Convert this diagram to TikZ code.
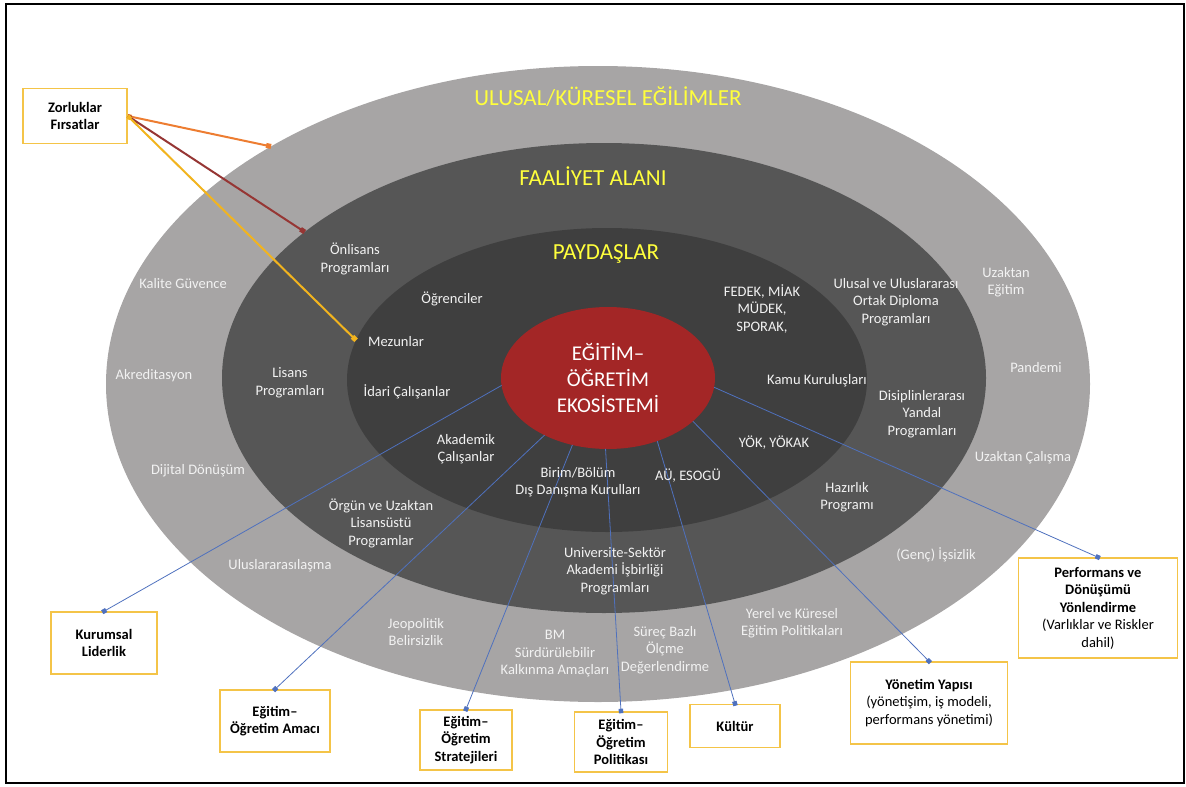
\documentclass[tikz,border=0pt]{standalone}
\usepackage{fontspec}
\setmainfont{Carlito}
\usetikzlibrary{arrows.meta, shapes.geometric, positioning}

\definecolor{trendgray}{RGB}{167,165,165}
\definecolor{alangray}{RGB}{86,86,86}
\definecolor{paydasgray}{RGB}{63,63,63}
\definecolor{ekored}{RGB}{163,38,38}
\definecolor{ringtext}{RGB}{242,242,242}
\definecolor{headyellow}{RGB}{255,255,60}
\definecolor{boxgold}{RGB}{244,196,72}
\definecolor{linkblue}{RGB}{79,113,190}
\definecolor{tieorange}{RGB}{237,125,49}
\definecolor{tiered}{RGB}{150,54,52}
\definecolor{tiegold}{RGB}{242,180,30}

\tikzset{
  ring/.style={ellipse, inner sep=0pt, outer sep=0pt},
  lbl/.style={text=ringtext, align=center, inner sep=1pt, font=\fontsize{14.5}{17.5}\selectfont},
  head/.style={text=headyellow, inner sep=1pt, font=\fontsize{23}{27}\selectfont},
  box/.style={draw=boxgold, line width=1.5pt, fill=white, align=center, inner sep=2pt,
    font=\bfseries\fontsize{14.5}{17.5}\selectfont},
  link/.style={draw=linkblue, line width=0.8pt, -{Square[length=4.5pt,width=4.5pt]}, shorten >=-2pt},
  tie/.style={line width=2pt, {Square[length=4pt,width=4pt]}-{Square[length=5pt,width=5pt]}},
}

\begin{document}
\begin{tikzpicture}[x=1pt, y=-1pt]
    \useasboundingbox (0,0) rectangle (1186,787);
    \draw[line width=2.5pt] (6,4) rectangle (1184,783);

    % rings
    \node[ring, fill=trendgray, minimum width=984pt, minimum height=636pt] (trend) at (598,384) {};
    \node[ring, fill=alangray, minimum width=764pt, minimum height=470pt] (alan) at (604,378) {};
    \node[ring, fill=paydasgray, minimum width=520pt, minimum height=304pt] (paydas) at (607,380) {};
    \node[ring, fill=ekored, minimum width=214pt, minimum height=142pt, text=white, align=center,
      font=\fontsize{21}{26}\selectfont] (eko) at (608,378) {EĞİTİM–\\ÖĞRETİM\\EKOSİSTEMİ};

    % boxes
    \node[box, minimum width=104pt, minimum height=55pt] (zor) at (75,116) {Zorluklar\\Fırsatlar};
    \node[box, minimum width=106pt, minimum height=62pt] (lider) at (104,643) {Kurumsal\\Liderlik};
    \node[box, minimum width=110pt, minimum height=62pt] (amac) at (275,721) {Eğitim–\\Öğretim Amacı};
    \node[box, minimum width=92pt, minimum height=60pt] (strat) at (466,740) {Eğitim–\\Öğretim\\Stratejileri};
    \node[box, minimum width=93pt, minimum height=60pt] (polit) at (621,742) {Eğitim–\\Öğretim\\Politikası};
    \node[box, minimum width=90pt, minimum height=43pt] (kultur) at (735,726) {Kültür};
    \node[box, minimum width=157pt, minimum height=82pt] (yonetim) at (929,703)
      {Yönetim Yapısı\\\mdseries(yönetişim, iş modeli,\\\mdseries performans yönetimi)};
    \node[box, minimum width=159pt, minimum height=100pt] (perf) at (1098,608)
      {Performans ve\\Dönüşümü\\Yönlendirme\\\mdseries(Varlıklar ve Riskler\\\mdseries dahil)};

    % connectors
    \draw[link] (eko.184) -- (lider.north);
    \draw[link] (eko.222) -- (amac.north);
    \draw[link] (eko.242) -- (strat.north);
    \draw[link] (eko.268) -- (polit.north);
    \draw[link] (eko.308) -- (kultur.north);
    \draw[link] (eko.333) -- (yonetim.north);
    \draw[link] (eko.355) -- (perf.north);
    \draw[tie, draw=tieorange] (zor.east) -- (trend.144);
    \draw[tie, draw=tiered] (zor.east) -- (alan.154);
    \draw[tie, draw=tiegold] (zor.east) -- (paydas.171.5);

    % headings
    \node[head] (h1) at (608,97) {ULUSAL/KÜRESEL EĞİLİMLER};
    \node[head] (h2) at (593,176) {FAALİYET ALANI};
    \node[head] (h3) at (606,254) {PAYDAŞLAR};

    % outer ring
    \node[lbl] (kalite) at (183,284) {Kalite Güvence};
    \node[lbl] (akred) at (154,376) {Akreditasyon};
    \node[lbl] (dijital) at (198,471) {Dijital Dönüşüm};
    \node[lbl] (ulusl) at (280,566) {Uluslararasılaşma};
    \node[lbl] (jeopol) at (416,632) {Jeopolitik\\Belirsizlik};
    \node[lbl] (bm) at (555,654) {BM\\Sürdürülebilir\\Kalkınma Amaçları};
    \node[lbl] (surec) at (665,650) {Süreç Bazlı\\Ölçme\\Değerlendirme};
    \node[lbl] (yerel) at (792,623) {Yerel ve Küresel\\Eğitim Politikaları};
    \node[lbl] (issiz) at (936,555) {(Genç) İşsizlik};
    \node[lbl] (uzcal) at (1023,458) {Uzaktan Çalışma};
    \node[lbl] (pandemi) at (1036,368) {Pandemi};
    \node[lbl] (uzegt) at (1006,282) {Uzaktan\\Eğitim};

    % middle ring
    \node[lbl] (onlis) at (355,259) {Önlisans\\Programları};
    \node[lbl] (lisans) at (290,383) {Lisans\\Programları};
    \node[lbl] (orgun) at (381,523) {Örgün ve Uzaktan\\Lisansüstü\\Programlar};
    \node[lbl] (unisek) at (615,571) {Universite-Sektör\\Akademi İşbirliği\\Programları};
    \node[lbl] (hazir) at (847,497) {Hazırlık\\Programı};
    \node[lbl] (disip) at (922,414) {Disiplinlerarası\\Yandal\\Programları};
    \node[lbl] (ortak) at (896,302) {Ulusal ve Uluslararası\\Ortak Diploma\\Programları};

    % inner ring
    \node[lbl] (ogr) at (452,299) {Öğrenciler};
    \node[lbl] (mezun) at (396,342) {Mezunlar};
    \node[lbl] (idari) at (407,392) {İdari Çalışanlar};
    \node[lbl] (akad) at (466,449) {Akademik\\Çalışanlar};
    \node[lbl] (birim) at (578,482) {Birim/Bölüm\\Dış Danışma Kurulları};
    \node[lbl] (au) at (688,476) {AÜ, ESOGÜ};
    \node[lbl] (yok) at (774,443) {YÖK, YÖKAK};
    \node[lbl] (kamu) at (817,381) {Kamu Kuruluşları};
    \node[lbl] (fedek) at (762,309) {FEDEK, MİAK\\MÜDEK,\\SPORAK,};
\end{tikzpicture}
\end{document}
